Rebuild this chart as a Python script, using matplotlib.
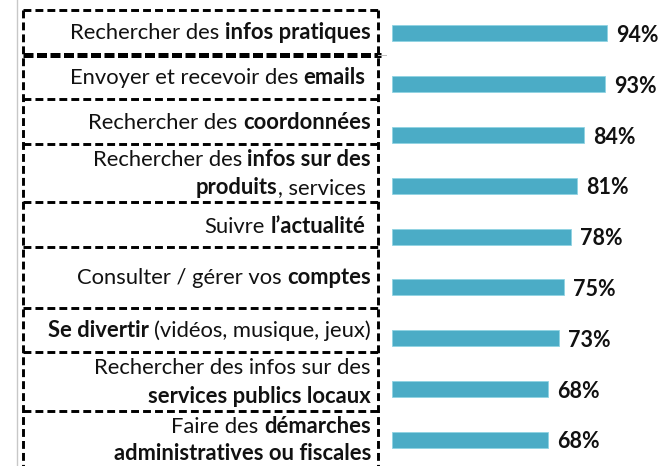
import matplotlib
matplotlib.use('Agg')
import matplotlib.pyplot as plt

plt.rcParams['font.family'] = ['Lato', 'DejaVu Sans']

# usages d'internet : libellés (morceaux gras / normaux, par ligne) et pourcentages
labels = [
    [[('Rechercher des ', False), ('infos pratiques', True)]],
    [[('Envoyer et recevoir des ', False), ('emails ', True)]],
    [[('Rechercher des ', False), ('coordonnées', True)]],
    [[('Rechercher des ', False), ('infos sur des', True)],
     [('produits', True), (', services ', False)]],
    [[('Suivre ', False), ('l’actualité ', True)]],
    [[('Consulter / gérer vos ', False), ('comptes', True)]],
    [[('Se divertir ', True), ('(vidéos, musique, jeux)', False)]],
    [[('Rechercher des infos sur des', False)],
     [('services publics locaux', True)]],
    [[('Faire des ', False), ('démarches', True)],
     [('administratives ou fiscales', True)]],
]
values = [94, 93, 84, 81, 78, 75, 73, 68, 68]

BAR = '#4BACC6'
FS = 15.8
SPACE = 4.0  # largeur d'une espace, en points

fig = plt.figure(figsize=(6.61, 4.66), dpi=100)

# calque de fond en pixels pour le texte et les cadres pointillés
lay = fig.add_axes([0, 0, 1, 1])
lay.set_xlim(0, 661)
lay.set_ylim(466, 0)
lay.axis('off')

ax = fig.add_axes([392 / 661, 0, 269 / 661, 1])
ypos = list(range(len(values)))
ax.barh(ypos, values, height=0.315, color=BAR, edgecolor='#8fd3e3', linewidth=0.6)
ax.set_xlim(0, 117.5)
ax.set_ylim(8.514, -0.659)
ax.axis('off')
for y, v in zip(ypos, values):
    ax.annotate(f'{v}%', xy=(v, y), xytext=(6.5, -1.5), textcoords='offset points',
                ha='left', va='center', fontsize=15.5, fontweight='bold', color='#111111')


def rich_line(x, y, parts):
    # on place les morceaux de droite à gauche
    prev = None
    for txt, bold in reversed(parts):
        gap = SPACE * (len(txt) - len(txt.rstrip(' ')))
        kw = dict(fontsize=FS, fontweight='bold' if bold else 'normal',
                  color='#111111', ha='right', textcoords='offset points')
        if prev is None:
            prev = lay.annotate(txt.strip(), xy=(x, y), xycoords='data',
                                xytext=(-gap, 0), va='baseline', **kw)
        else:
            prev = lay.annotate(txt.strip(), xy=(0, 0), xycoords=prev,
                                xytext=(-gap, 0), va='bottom', **kw)


centers = [[33], [78], [123], [160, 188], [227], [278], [331], [368, 397], [427, 454]]
for lines, cs in zip(labels, centers):
    for parts, c in zip(lines, cs):
        rich_line(371, c + 6, parts)

# cadres pointillés autour des libellés : chaque trait tracé une seule fois
dash = dict(color='black', linewidth=2.1, linestyle=(0, (2.7, 1.4)), solid_capstyle='butt')
x0, x1 = 23, 378
edges = [10, 99, 144, 202, 247, 308, 352, 411]
for e in edges:
    lay.plot([x0, x1], [e, e], **dash)
lay.plot([x0, x0], [10, 470], **dash)
lay.plot([x1, x1], [10, 470], **dash)
lay.plot([x0, 381], [55, 55], color='black', linewidth=3.6, linestyle=(0, (2.0, 0.7)))
lay.plot([378, 386], [55, 55], color='#bbbbbb', linewidth=0.7)
lay.plot([17, 17], [0, 466], color='#c8c8c8', linewidth=1.0)

fig.savefig('out.png', dpi=100)
